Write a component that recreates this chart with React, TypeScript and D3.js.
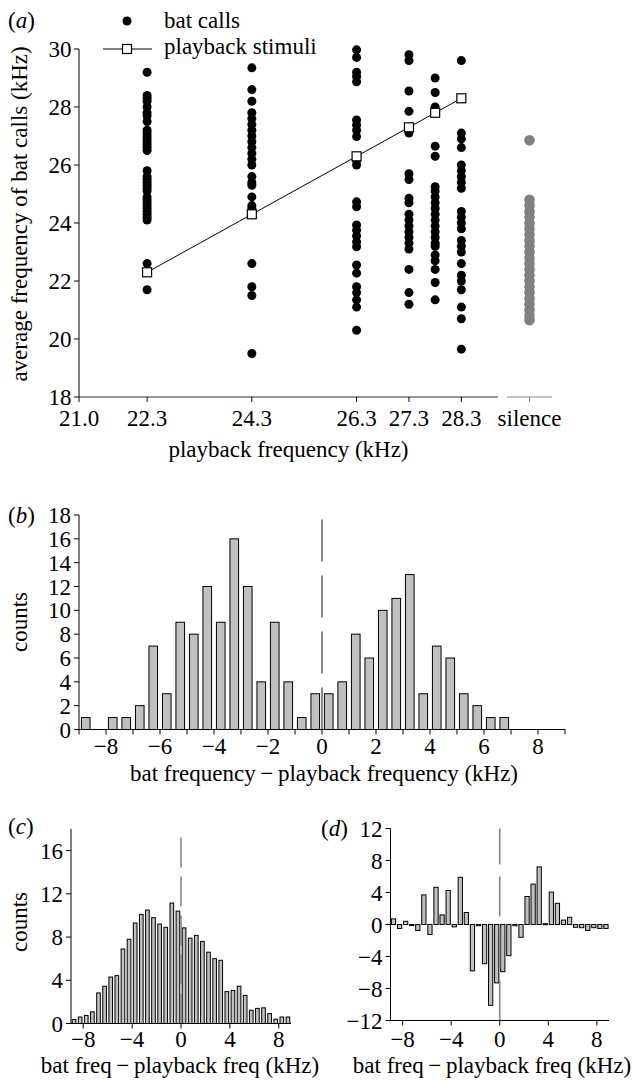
import React from "react";
import * as d3 from "d3";

// ---------- Panel (a) data ----------
const playbackFreqs = [22.3, 24.3, 26.3, 27.3, 27.8, 28.3];
const xTickValuesA = [21.0, 22.3, 24.3, 26.3, 27.3, 28.3];
const yTickValuesA = [18, 20, 22, 24, 26, 28, 30];
const calls223 = [29.2, 28.4, 28.3, 28.2, 28.0, 27.8, 27.7, 27.5, 27.2, 27.1, 27.0, 26.9, 26.8, 26.7, 26.6, 26.5, 25.8, 25.6, 25.5, 25.4, 25.3, 25.2, 25.1, 24.9, 24.8, 24.7, 24.6, 24.5, 24.4, 24.3, 24.2, 24.1, 22.6, 21.7];
const calls243 = [29.35, 28.6, 28.2, 27.8, 27.6, 27.4, 27.2, 27.0, 26.8, 26.6, 26.4, 26.2, 26.0, 25.6, 25.4, 25.3, 24.9, 24.6, 24.5, 22.6, 21.8, 21.5, 19.5];
const calls263 = [29.97, 29.71, 29.2, 29.05, 28.87, 27.55, 27.38, 27.2, 26.98, 26.3, 26.15, 26.0, 24.73, 24.56, 23.93, 23.75, 23.55, 23.35, 23.18, 22.55, 22.27, 21.8, 21.6, 21.35, 21.1, 20.3];
const calls273 = [29.8, 29.6, 28.55, 27.85, 27.1, 25.7, 25.5, 24.85, 24.7, 24.3, 24.1, 23.9, 23.7, 23.5, 23.3, 23.1, 22.4, 21.6, 21.2];
const calls278 = [29.0, 28.5, 28.0, 26.65, 26.3, 25.25, 25.1, 24.9, 24.7, 24.5, 24.3, 24.1, 23.9, 23.7, 23.5, 23.3, 23.2, 22.9, 22.7, 22.4, 21.95, 21.35];
const calls283 = [29.6, 27.1, 26.9, 26.6, 26.0, 25.8, 25.6, 25.4, 25.2, 24.4, 24.2, 24.0, 23.8, 23.4, 23.2, 23.0, 22.6, 22.2, 22.0, 21.7, 21.1, 20.7, 19.65];
const callsSilence = [26.85, 24.8, 24.6, 24.4, 24.2, 24.0, 23.8, 23.6, 23.4, 23.2, 23.0, 22.8, 22.6, 22.4, 22.2, 22.0, 21.8, 21.6, 21.4, 21.2, 21.0, 20.8, 20.65];
const callColumns = [calls223, calls243, calls263, calls273, calls278, calls283];

// ---------- Histogram data (bins of 0.5 kHz from -9 to 9) ----------
const binCenters = d3.range(36).map((k) => -8.75 + 0.5 * k);
const countsB = [1, 0, 1, 1, 2, 7, 3, 9, 8, 12, 9, 16, 12, 4, 9, 4, 1, 3, 3, 4, 8, 6, 10, 11, 13, 3, 7, 6, 3, 2, 1, 1, 0, 0, 0, 0];
const countsC = [0.37, 0.6, 0.74, 1.08, 2.83, 3.45, 4.3, 4.43, 6.9, 7.8, 9.3, 10.1, 10.5, 9.8, 9.2, 8.9, 11.15, 10.4, 8.85, 7.9, 8.15, 7.6, 6.6, 6.0, 5.85, 2.95, 3.05, 3.45, 2.6, 1.23, 1.4, 1.45, 0.92, 0.4, 0.6, 0.6];
const diffD = [0.7, -0.5, 0.4, -0.08, -0.75, 3.7, -1.25, 4.65, 1.2, 4.25, -0.3, 5.9, 1.5, -5.8, -0.15, -4.9, -10.1, -7.3, -5.9, -3.9, -0.15, -1.6, 3.5, 5.05, 7.2, 0.1, 4.05, 2.65, 0.55, 0.9, -0.35, -0.4, -0.75, -0.4, -0.5, -0.5];
const xTicksB = d3.range(-9, 10, 1);
const xLabelsB = [-8, -6, -4, -2, 0, 2, 4, 6, 8];
const yTicksB = [0, 2, 4, 6, 8, 10, 12, 14, 16, 18];
const xTicksCD = [-8, -4, 0, 4, 8];
const yTicksC = [0, 4, 8, 12, 16];
const yTicksD = [-12, -8, -4, 0, 4, 8, 12];

const FONT = "Liberation Serif, DejaVu Serif, serif";
const FS = 23;
const fmtNum = (v: number) => (v < 0 ? "\u2212" + Math.abs(v) : String(v));

function PanelLabel({ x, y, letter }: { x: number; y: number; letter: string }) {
  return (
    <text x={x} y={y} fontSize={FS} fontFamily={FONT}>
      (<tspan fontStyle="italic">{letter}</tspan>)
    </text>
  );
}

function Histogram({
  xs, ys, values, barFrac, xTicks, xLabels, yTicks, dash, dashWidth, labelOffset,
}: any) {
  const [x0, x1] = xs.range();
  const [yb, yt] = ys.range();
  const binW = xs(0.5) - xs(0);
  const bw = binW * barFrac;
  const zero = ys(Math.max(0, ys.domain()[0]));
  return (
    <g>
      {values.map((v: number, i: number) => {
        const cx = xs(binCenters[i]);
        if (v === 0) return null;
        const yv = ys(v);
        const top = Math.min(yv, zero);
        const h = Math.max(Math.abs(yv - zero), 1);
        return (
          <rect key={i} x={cx - bw / 2} y={top} width={bw} height={h} fill="#c0c0c0" stroke="#000" strokeWidth={1} />
        );
      })}
      <line x1={xs(0)} x2={xs(0)} y1={yb} y2={yt} stroke="#888" strokeWidth={dashWidth} strokeDasharray={dash} />
      {/* axes */}
      <line x1={x0} x2={x1} y1={yb} y2={yb} stroke="#000" strokeWidth={1} />
      <line x1={x0} x2={x0} y1={yb} y2={yt} stroke="#000" strokeWidth={1} />
      {xTicks.map((t: number) => (
        <line key={"xt" + t} x1={xs(t)} x2={xs(t)} y1={yb} y2={yb + 5} stroke="#000" strokeWidth={1} />
      ))}
      {xLabels.map((t: number) => (
        <text key={"xl" + t} x={xs(t)} y={yb + labelOffset} textAnchor="middle" fontSize={FS} fontFamily={FONT}>
          {fmtNum(t)}
        </text>
      ))}
      {yTicks.map((t: number) => (
        <g key={"yt" + t}>
          <line x1={x0 - 5} x2={x0} y1={ys(t)} y2={ys(t)} stroke="#000" strokeWidth={1} />
          <text x={x0 - 8} y={ys(t)} dy="0.35em" textAnchor="end" fontSize={FS} fontFamily={FONT}>
            {fmtNum(t)}
          </text>
        </g>
      ))}
    </g>
  );
}

export default function App() {
  // Panel (a)
  const xA = d3.scaleLinear().domain([21, 29]).range([79, 498]);
  const yA = d3.scaleLinear().domain([18, 30]).range([397, 49]);
  const silenceX = 529.5;
  const lineGen = d3.line<number>().x((d) => xA(d)).y((d) => yA(d));

  // Panel (b)
  const xB = d3.scaleLinear().domain([-9, 9]).range([79, 565]);
  const yB = d3.scaleLinear().domain([0, 18]).range([729.5, 515]);
  // Panel (c)
  const xC = d3.scaleLinear().domain([-9, 9]).range([71, 291]);
  const yC = d3.scaleLinear().domain([0, 18]).range([1023.5, 829]);
  // Panel (d)
  const xD = d3.scaleLinear().domain([-9, 9]).range([390.5, 609]);
  const yD = d3.scaleLinear().domain([-12, 12]).range([1020.5, 828.5]);

  const sq = 9;

  return (
    <svg width={632} height={1081} style={{ position: "absolute", left: 0, top: 0, background: "#fff" }}>
      {/* ---------------- Panel (a) ---------------- */}
      <PanelLabel x={8} y={28} letter="a" />
      {/* legend */}
      <circle cx={127} cy={21} r={4.5} fill="#000" />
      <text x={164} y={28} fontSize={FS} fontFamily={FONT}>bat calls</text>
      <line x1={103} x2={152} y1={49} y2={49} stroke="#000" strokeWidth={1} />
      <rect x={127 - sq / 2} y={49 - sq / 2} width={sq} height={sq} fill="#fff" stroke="#000" strokeWidth={1.2} />
      <text x={164} y={54} fontSize={FS} fontFamily={FONT}>playback stimuli</text>

      {/* dots */}
      {callColumns.map((col, ci) =>
        col.map((v, i) => <circle key={ci + "-" + i} cx={xA(playbackFreqs[ci])} cy={yA(v)} r={4.5} fill="#000" />)
      )}
      {callsSilence.map((v, i) => (
        <circle key={"s" + i} cx={silenceX} cy={yA(v)} r={5.3} fill="#808080" />
      ))}
      {/* playback line */}
      <path d={lineGen(playbackFreqs) || ""} fill="none" stroke="#000" strokeWidth={1} />
      {playbackFreqs.map((f) => (
        <rect key={"sq" + f} x={xA(f) - sq / 2} y={yA(f) - sq / 2} width={sq} height={sq} fill="#fff" stroke="#000" strokeWidth={1.2} />
      ))}
      {/* axes */}
      <line x1={79} x2={79} y1={yA(18)} y2={yA(30)} stroke="#000" strokeWidth={1} />
      <line x1={xA(21)} x2={xA(29)} y1={yA(18)} y2={yA(18)} stroke="#333" strokeWidth={1.2} />
      <line x1={507} x2={552} y1={yA(18)} y2={yA(18)} stroke="#888" strokeWidth={1.2} />
      <line x1={silenceX} x2={silenceX} y1={yA(18)} y2={yA(18) + 5} stroke="#888" strokeWidth={1} />
      {yTickValuesA.map((t) => (
        <g key={"ya" + t}>
          <line x1={74} x2={79} y1={yA(t)} y2={yA(t)} stroke="#000" strokeWidth={1} />
          <text x={71.5} y={yA(t)} dy="0.35em" textAnchor="end" fontSize={FS} fontFamily={FONT}>{t}</text>
        </g>
      ))}
      {xTickValuesA.map((t) => (
        <g key={"xa" + t}>
          <line x1={xA(t)} x2={xA(t)} y1={yA(18)} y2={yA(18) + 5} stroke="#000" strokeWidth={1} />
          <text x={xA(t)} y={426} textAnchor="middle" fontSize={FS} fontFamily={FONT}>{t.toFixed(1)}</text>
        </g>
      ))}
      <text x={silenceX} y={426} textAnchor="middle" fontSize={FS} fontFamily={FONT}>silence</text>
      <text x={288.5} y={457} textAnchor="middle" fontSize={FS} fontFamily={FONT}>playback frequency (kHz)</text>
      <text transform="translate(27,214) rotate(-90)" textAnchor="middle" fontSize={FS} fontFamily={FONT}>
        average frequency of bat calls (kHz)
      </text>

      {/* ---------------- Panel (b) ---------------- */}
      <PanelLabel x={8} y={523} letter="b" />
      <Histogram xs={xB} ys={yB} values={countsB} barFrac={0.64} xTicks={xTicksB} xLabels={xLabelsB}
        yTicks={yTicksB} dash="42,14" dashWidth={2} labelOffset={24} />
      <text x={324} y={781} textAnchor="middle" fontSize={FS} fontFamily={FONT}>
        bat frequency{"\u2009\u2212\u2009"}playback frequency (kHz)
      </text>
      <text transform="translate(27,622) rotate(-90)" textAnchor="middle" fontSize={FS} fontFamily={FONT}>counts</text>

      {/* ---------------- Panel (c) ---------------- */}
      <PanelLabel x={8} y={834} letter="c" />
      <Histogram xs={xC} ys={yC} values={countsC} barFrac={0.6} xTicks={xTicksCD} xLabels={xTicksCD}
        yTicks={yTicksC} dash="30,9" dashWidth={1.6} labelOffset={23} />
      <text x={180} y={1073} textAnchor="middle" fontSize={FS} fontFamily={FONT}>
        bat freq{"\u2009\u2212\u2009"}playback freq (kHz)
      </text>
      <text transform="translate(27,922) rotate(-90)" textAnchor="middle" fontSize={FS} fontFamily={FONT}>counts</text>

      {/* ---------------- Panel (d) ---------------- */}
      <PanelLabel x={321} y={836} letter="d" />
      <Histogram xs={xD} ys={yD} values={diffD} barFrac={0.7} xTicks={xTicksCD} xLabels={xTicksCD}
        yTicks={yTicksD} dash="40,12" dashWidth={1.6} labelOffset={26} />
      <text x={492} y={1073} textAnchor="middle" fontSize={FS} fontFamily={FONT}>
        bat freq{"\u2009\u2212\u2009"}playback freq (kHz)
      </text>
    </svg>
  );
}
